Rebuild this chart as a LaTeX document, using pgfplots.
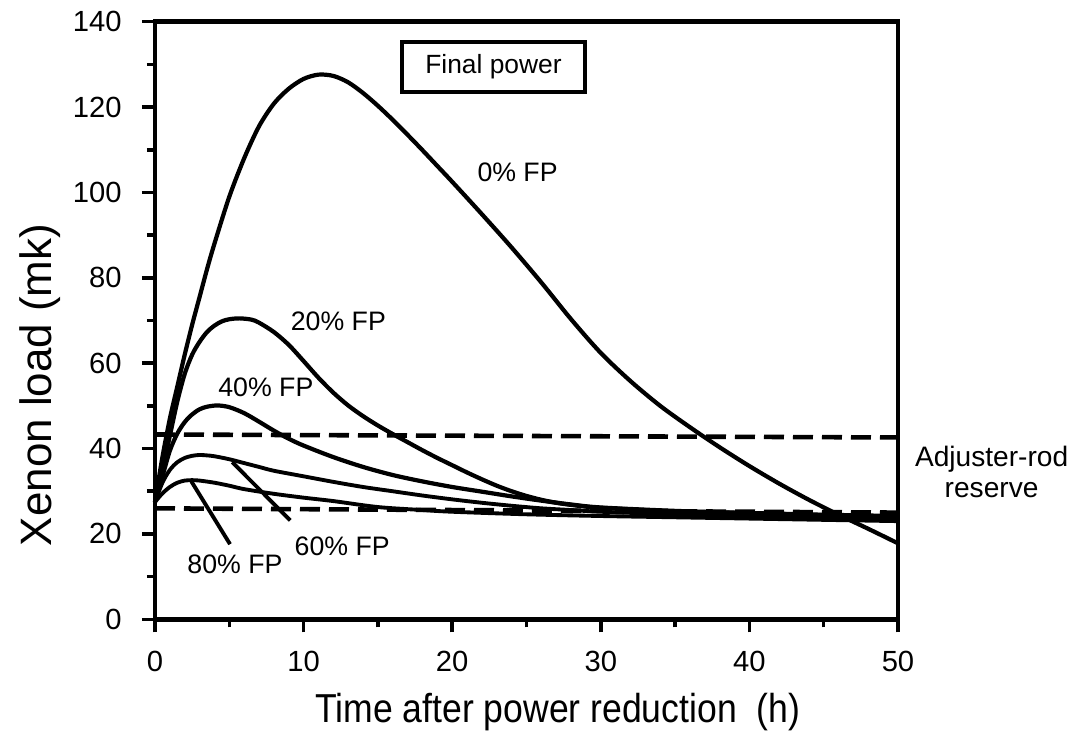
\documentclass[border=0pt]{standalone}
\usepackage{fontspec}
\setmainfont{Liberation Sans}
\usepackage{pgfplots}
\pgfplotsset{compat=1.18}
\usepackage{graphicx}
\begin{document}
\begin{tikzpicture}
\begin{axis}[
  width=74.3mm, height=59.76mm, scale only axis,
  xmin=0, xmax=50, ymin=0, ymax=140,
  xtick={0,10,...,50}, ytick={0,20,...,140},
  minor x tick num=1, minor y tick num=1,
  tick align=outside, xtick pos=left, ytick pos=left,
  major tick length=1.3mm, minor tick length=0.8mm,
  axis line style={line width=1.3pt},
  every tick/.style={black, line width=1pt},
  /pgf/number format/assume math mode=true,
  ticklabel style={font=\fontsize{8.3}{9.6}\selectfont},
  xticklabel style={yshift=-0.6mm},
  yticklabel style={xshift=-0.8mm},
  clip=false,
]
% 0% FP
\addplot[black, line width=1.2pt, smooth] coordinates {
(0,27.5)(0.5,38)(1,47)(1.5,54.5)(2,62)(2.5,69)(3,75.5)(3.5,82)(4,88)(5,99)(6,108)(7,115.5)(8,120.8)(9,124.3)(10,126.6)(11,127.6)(12,127.3)(13,125.8)(14,123.3)(15,120.3)(16,117)(17,113.5)(18,109.9)(19,106.2)(20,102.5)(22,94.9)(24,87.1)(26,78.9)(28,70.3)(30,62.4)(32,55.8)(34,50.0)(36,45.0)(38,40.3)(40,35.9)(42,31.8)(44,28.0)(46,24.5)(48,21.2)(50,17.8)};
% 20% FP
\addplot[black, line width=1.2pt, smooth] coordinates {
(0,27.5)(0.5,35)(1,43)(1.5,51)(2,57.5)(2.5,62)(3,65)(3.5,67.3)(4,68.8)(4.5,69.8)(5,70.3)(5.7,70.5)(6.5,70.2)(7,69.5)(8,67.3)(9,64.3)(10,60.5)(11,56.6)(12,53.1)(13,50.1)(14,47.6)(15,45.4)(16,43.4)(17,41.5)(18,39.6)(19,37.8)(20,36.1)(21,34.4)(22,32.8)(23,31.3)(24,30)(25,28.9)(26,28)(27,27.3)(28,26.8)(29,26.4)(30,26.1)(35,25.3)(40,24.9)(45,24.5)(50,24.2)};
% 40% FP
\addplot[black, line width=1.2pt, smooth] coordinates {
(0,27.5)(0.5,33.5)(1,39.5)(1.5,43.5)(2,46.2)(2.5,48)(3,49.2)(3.5,49.8)(4.2,50.1)(5,49.7)(6,48.3)(7,46.3)(8,44.2)(9,42.3)(10,40.7)(12,38)(14,35.7)(16,33.8)(18,32.3)(20,31)(22,29.9)(24,28.8)(26,27.8)(28,26.9)(30,26.2)(35,25.4)(40,24.9)(45,24.4)(50,24)};
% 60% FP
\addplot[black, line width=1.1pt, smooth] coordinates {
(0,27.5)(0.5,32)(1,35)(1.5,36.8)(2,37.8)(2.5,38.3)(3,38.5)(3.5,38.4)(4,38.2)(5,37.5)(6,36.6)(7,35.7)(8,34.8)(10,33.5)(12,32.2)(14,31)(16,30)(18,29)(20,28.1)(22,27.3)(24,26.6)(26,26)(28,25.6)(30,25.2)(35,24.6)(40,24.2)(45,23.8)(50,23.4)};
% 80% FP
\addplot[black, line width=1.1pt, smooth] coordinates {
(0,27.5)(0.5,29.5)(1,31)(1.5,32)(2,32.5)(2.5,32.6)(3,32.5)(4,32)(5,31.3)(6,30.5)(8,29.4)(10,28.5)(12,27.7)(15,26.3)(18,25.6)(20,25.2)(25,24.6)(30,24.2)(35,23.9)(40,23.6)(45,23.3)(50,23)};
% adjuster-rod reserve limits
\addplot[black, line width=1.3pt, dash pattern=on 2mm off 0.9mm] coordinates {(0,43.3)(50,42.6)};
\addplot[black, line width=1.3pt, dash pattern=on 2mm off 0.9mm] coordinates {(0,26)(50,25)};
% label leaders
\addplot[black, line width=1.1pt] coordinates {(2.45,32.3)(5.05,17.6)};
\addplot[black, line width=1.1pt] coordinates {(5.2,36.8)(9.1,23.2)};
% labels
\node[font=\fontsize{7.6}{9}\selectfont] at (axis cs:24.4,104.7) {0\% FP};
\node[font=\fontsize{7.6}{9}\selectfont] at (axis cs:12.34,69.7) {20\% FP};
\node[font=\fontsize{7.6}{9}\selectfont] at (axis cs:7.46,54.3) {40\% FP};
\node[font=\fontsize{7.6}{9}\selectfont] at (axis cs:12.6,17.0) {60\% FP};
\node[font=\fontsize{7.6}{9}\selectfont] at (axis cs:5.38,13.0) {80\% FP};
\node[draw, line width=1.2pt, minimum width=18.3mm, minimum height=5mm, inner sep=0pt, font=\fontsize{7.5}{9}\selectfont] at (axis cs:22.78,129.4) {Final power};
\node[font=\fontsize{8}{8.6}\selectfont, align=center] at (axis cs:56.3,34.5) {Adjuster-rod\\reserve};
\node[rotate=90, font=\fontsize{12.5}{14}\selectfont] at (axis cs:-7.74,54.9) {Xenon load (mk)};
\node[font=\fontsize{11.5}{13}\selectfont] at (axis cs:27.1,-21.7) {\scalebox{0.88}[1]{Time after power reduction\ \ (h)}};
\coordinate (bl) at (rel axis cs:0,0);
\end{axis}
\pgfresetboundingbox
\path[use as bounding box] ([xshift=-15.5mm,yshift=-11.57mm]bl) rectangle ++(109.1mm,73.5mm);
\end{tikzpicture}
\end{document}
